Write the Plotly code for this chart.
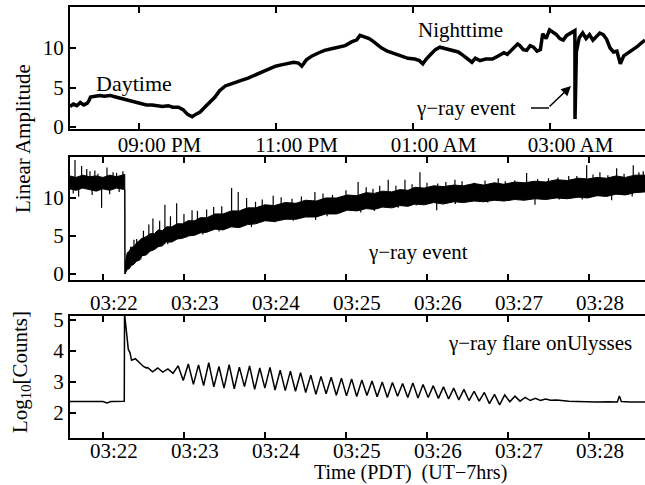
import pandas as pd
import plotly.graph_objects as go

# ---------------- data ----------------
# Top panel: minutes after 20:00 PDT, linear amplitude
top_minutes = [0, 3, 6, 9, 12, 15, 16.5, 18, 22, 26, 30, 35, 40, 45, 50, 55, 61, 67, 72, 76, 81, 86, 90, 95, 99,
               103, 107, 110, 114, 118, 122, 127, 131, 136, 140, 145, 150, 156, 162, 168, 174, 180, 186, 191, 196,
               200, 203, 207, 212, 218, 223, 229, 235, 241, 247, 251, 254, 258, 262, 265, 269, 273, 278, 284, 290,
               296, 302, 306, 309, 312, 316, 320, 324, 329, 335, 340, 344, 348, 352, 355, 359, 364, 370, 375, 380,
               383, 388, 392, 394, 397, 400, 403, 406, 409, 412, 414, 417, 420, 423, 426, 429, 432, 435, 438, 441,
               442.2, 442.3, 442.6, 443.5, 446, 449, 452, 455, 458, 461, 464, 467, 470, 473, 476, 479, 482, 485,
               488, 491, 494, 497, 500, 503.6]
top_amp = [2.6, 2.9, 2.7, 3.1, 2.8, 3.0, 3.3, 3.8, 3.9, 4.0, 3.9, 4.0, 3.8, 3.6, 3.4, 3.2, 3.0, 2.8, 2.8, 2.7, 2.6,
           2.7, 2.5, 2.5, 2.2, 1.6, 1.3, 1.6, 1.9, 2.5, 3.1, 3.8, 4.6, 5.2, 5.4, 5.6, 5.9, 6.2, 6.6, 7.0, 7.4, 7.7,
           7.9, 8.1, 8.2, 8.1, 7.7, 8.5, 9.0, 9.4, 9.7, 9.9, 10.1, 10.3, 10.8, 11.0, 11.6, 11.4, 11.2, 10.9, 10.4,
           10.0, 9.6, 9.3, 9.0, 8.7, 8.6, 8.4, 8.0, 8.6, 9.2, 9.8, 10.1, 9.9, 9.7, 9.5, 9.1, 8.6, 8.2, 8.7, 8.4,
           8.6, 8.6, 9.0, 9.4, 9.2, 9.9, 10.5, 10.3, 9.8, 9.7, 10.3, 10.1, 9.6, 9.8, 11.8, 11.2, 12.3, 12.0, 11.7,
           11.2, 11.0, 11.6, 11.9, 12.1, 12.2, 1.0, 5.5, 9.5, 11.3, 11.9, 11.2, 11.7, 11.0, 11.5, 11.9, 11.7, 11.1,
           10.0, 9.5, 9.6, 8.0, 9.0, 9.3, 9.6, 9.8, 10.2, 10.6, 11.0]

# Middle panel: seconds after 03:22:00, envelope of the noisy amplitude band
pre_sec = [-24.5, -20, -15, -10, -5, 0, 5, 10, 16.2]
pre_hi = [12.9, 12.7, 13.0, 12.8, 12.9, 12.7, 13.0, 12.8, 13.1]
pre_lo = [11.2, 11.0, 11.3, 11.1, 10.9, 11.2, 11.0, 11.3, 11.1]

post_sec = [16.3, 17, 18, 19.5, 21, 23, 25, 27, 29, 32, 35, 38, 41, 44, 47, 51, 55, 59, 63, 68, 72, 77, 83, 89,
            95, 101, 107, 113, 120, 127, 135, 143, 150, 158, 165, 173, 181, 188, 195, 201, 207, 214, 220, 226, 231,
            238, 245, 252, 260, 267, 275, 282, 290, 297, 305, 312, 320, 328, 336, 344, 352, 359, 366, 373, 380, 387,
            394, 401.5]
post_lo = [0.0, 0.2, 0.6, 0.7, 1.1, 1.3, 1.7, 1.8, 2.4, 2.5, 3.0, 3.2, 3.6, 3.7, 4.2, 4.2, 4.6, 4.7, 5.0, 5.1,
           5.4, 5.5, 5.9, 5.8, 6.2, 6.1, 6.5, 6.6, 7.0, 6.9, 7.2, 7.2, 7.5, 7.5, 7.9, 7.9, 8.4, 8.3, 8.6, 8.5, 8.8,
           8.7, 9.0, 8.9, 9.2, 9.1, 9.4, 9.2, 9.5, 9.4, 9.6, 9.5, 9.7, 9.6, 9.8, 9.7, 9.9, 9.8, 10.0, 9.9, 10.1,
           10.0, 10.3, 10.2, 10.5, 10.4, 10.7, 10.8]
post_hi = [1.2, 2.0, 2.8, 3.0, 3.5, 3.6, 4.1, 4.4, 4.7, 4.9, 5.3, 5.3, 5.8, 5.7, 6.2, 6.2, 6.6, 6.6, 7.0, 7.0,
           7.4, 7.4, 7.9, 7.9, 8.3, 8.3, 8.7, 8.7, 9.1, 9.0, 9.4, 9.3, 9.7, 9.6, 10.0, 10.0, 10.4, 10.3, 10.7, 10.6,
           10.9, 10.8, 11.1, 11.0, 11.4, 11.3, 11.6, 11.5, 11.7, 11.6, 11.9, 11.7, 12.0, 11.8, 12.1, 12.0, 12.2,
           12.1, 12.4, 12.3, 12.6, 12.5, 12.7, 12.6, 12.9, 12.7, 13.0, 13.0]

# Middle panel spikes: seconds, band value at the spike foot, spike tip
spike_sec = [-20.7, -15.8, -9.6, -3.7, 10.1, 14.8, 20.5, 25, 30, 37, 45.9, 54.6, 60, 66, 76.8, 88, 95.3, 100.2,
             106.4, 126.1, 140, 157, 170, 189, 200, 211.3, 223.7, 234.8, 248, 260.7, 275, 292.8, 305, 313.8, 330,
             345, 358.3, 368.1, 380.5, 392.8, 400.2,
             3, -12, -6, 7.5, 23, 34, 42, 50, 70, 82, 113, 118, 132, 147, 163, 180, 195, 205, 217, 229, 240, 254,
             266, 283, 298, 322, 337, 351, 363, 374, 386, 397,
             -18, -1.0, 5, 99, 127.4, 157.5, 175.6, 218.7, 247.2, 320, 376.8,
             -22, -8, 12, 28, 48, 62, 74, 86, 110, 141, 166, 191, 201, 232, 261, 285, 301, 338, 355, 392]
spike_base = [12.0, 12.0, 12.0, 12.0, 12.0, 12.0, 2.0, 2.8, 3.5, 4.5, 5.0, 5.6, 5.9, 6.1, 6.5, 6.9, 7.1, 7.3,
              7.4, 7.9, 8.1, 8.5, 8.8, 9.2, 9.5, 9.7, 9.9, 10.1, 10.3, 10.4, 10.5, 10.7, 10.8, 10.9, 11.0, 11.1,
              11.3, 11.4, 11.5, 11.7, 11.8,
              12.0, 12.0, 12.0, 12.0, 2.5, 4.0, 4.7, 5.3, 6.3, 6.7, 7.6, 7.7, 8.0, 8.3, 8.7, 9.0, 9.4, 9.6, 9.8,
              10.0, 10.2, 10.3, 10.4, 10.6, 10.8, 10.9, 11.0, 11.2, 11.3, 11.4, 11.6, 11.7,
              12.0, 12.0, 12.0, 7.2, 7.9, 8.5, 8.9, 9.8, 10.3, 10.9, 11.5,
              12.0, 12.0, 12.0, 3.3, 5.2, 6.0, 6.3, 6.8, 7.5, 8.1, 8.7, 9.2, 9.5, 10.1, 10.4, 10.6, 10.8, 11.0,
              11.2, 11.6]
spike_tip = [15.0, 14.2, 13.5, 13.2, 13.3, 13.5, 3.6, 4.6, 5.7, 7.3, 9.1, 9.3, 7.9, 8.4, 8.5, 8.9, 11.3, 10.8,
             10.0, 10.3, 9.9, 10.8, 10.4, 12.1, 11.2, 12.4, 12.4, 13.4, 11.9, 12.4, 12.0, 12.6, 12.3, 13.3, 12.6,
             12.9, 14.3, 13.4, 13.9, 14.3, 13.5,
             14.0, 13.8, 13.6, 13.4, 4.5, 6.5, 7.0, 7.6, 8.3, 8.8, 9.5, 9.8, 10.1, 10.2, 10.6, 11.0, 11.4, 11.6,
             11.6, 11.8, 12.0, 12.1, 12.2, 12.3, 12.2, 12.5, 12.7, 12.9, 13.1, 13.0, 13.2, 13.4,
             10.2, 8.7, 10.5, 6.2, 6.8, 7.1, 8.0, 8.7, 8.4, 9.1, 9.7,
             10.6, 10.4, 10.8, 1.9, 3.9, 4.8, 5.2, 5.6, 6.2, 7.0, 7.6, 8.1, 8.3, 9.0, 9.2, 9.4, 9.6, 9.8, 9.8,
             10.2]

# Bottom panel: seconds after 03:22:00, log10 counts
flare_sec = [-24.5, -15, -10, -5, 0, 3, 6, 10, 15.8, 16.0, 16.8, 17.5, 18.8, 20, 21.2, 24, 27.4, 30, 32.3]
flare_log = [2.37, 2.36, 2.36, 2.37, 2.37, 2.32, 2.37, 2.37, 2.38, 5.2, 4.9, 4.7, 4.05, 3.95, 3.7, 3.75, 3.6,
             3.5, 3.45]
osc_start_sec = 33.0
osc_step_sec = 3.78
osc_log = [3.47, 3.33, 3.45, 3.32, 3.42, 3.28, 3.52, 3.05, 3.58, 2.92, 3.55, 2.88, 3.62, 2.84, 3.50, 2.80,
           3.56, 2.78, 3.48, 2.85, 3.52, 2.76, 3.45, 2.80, 3.47, 2.74, 3.38, 2.72, 3.35, 2.70, 3.30, 2.66,
           3.22, 2.60, 3.18, 2.62, 3.15, 2.57, 3.12, 2.55, 3.10, 2.53, 3.06, 2.56, 3.03, 2.52, 3.00, 2.50,
           2.98, 2.54, 2.95, 2.50, 2.97, 2.48, 2.92, 2.50, 2.88, 2.47, 2.84, 2.45, 2.80, 2.42, 2.76, 2.40,
           2.70, 2.38, 2.66, 2.30, 2.60, 2.26, 2.58, 2.36, 2.54, 2.38, 2.50, 2.40, 2.47, 2.40, 2.45, 2.41]
tail_sec = [336, 345, 355, 365, 375, 381, 382.5, 384, 390, 401.5]
tail_log = [2.42, 2.38, 2.36, 2.35, 2.36, 2.35, 2.55, 2.37, 2.35, 2.35]

top_ticks = ["2004-12-26 21:00", "2004-12-26 23:00", "2004-12-27 01:00", "2004-12-27 03:00"]
top_ticktext = ["09:00 PM", "11:00 PM", "01:00 AM", "03:00 AM"]
zoom_ticks = ["2004-12-27 03:22", "2004-12-27 03:23", "2004-12-27 03:24", "2004-12-27 03:25",
              "2004-12-27 03:26", "2004-12-27 03:27", "2004-12-27 03:28"]
zoom_ticktext = ["03:22", "03:23", "03:24", "03:25", "03:26", "03:27", "03:28"]

# ---------------- build ----------------
base_top = pd.Timestamp("2004-12-26 20:00")
base_zoom = pd.Timestamp("2004-12-27 03:22:00")


def tmin(v):
    return [base_top + pd.Timedelta(minutes=m) for m in v]


def tsec(v):
    return [base_zoom + pd.Timedelta(seconds=s) for s in v]


FONT = "Liberation Serif"
fig = go.Figure()

fig.add_trace(go.Scatter(x=tmin(top_minutes), y=top_amp, mode="lines",
                         line=dict(color="black", width=3.5), xaxis="x", yaxis="y", showlegend=False))

# middle band polygons
fig.add_trace(go.Scatter(x=tsec(pre_sec + pre_sec[::-1]), y=pre_hi + pre_lo[::-1], mode="lines",
                         fill="toself", fillcolor="black", line=dict(color="black", width=1),
                         xaxis="x2", yaxis="y2", showlegend=False))
fig.add_trace(go.Scatter(x=tsec(post_sec + post_sec[::-1]), y=post_hi + post_lo[::-1], mode="lines",
                         fill="toself", fillcolor="black", line=dict(color="black", width=1),
                         xaxis="x2", yaxis="y2", showlegend=False))
fig.add_trace(go.Scatter(x=tsec([pre_sec[-1], post_sec[0]]), y=[pre_lo[-1], post_lo[0]], mode="lines",
                         line=dict(color="black", width=1.5), xaxis="x2", yaxis="y2", showlegend=False))
sx, sy = [], []
for s, b, t in zip(spike_sec, spike_base, spike_tip):
    ts = base_zoom + pd.Timedelta(seconds=s)
    sx += [ts, ts, None]
    sy += [b, t, None]
fig.add_trace(go.Scatter(x=sx, y=sy, mode="lines", line=dict(color="black", width=1.2),
                         xaxis="x2", yaxis="y2", showlegend=False))

# bottom
osc_sec = [osc_start_sec + i * osc_step_sec for i in range(len(osc_log))]
fig.add_trace(go.Scatter(x=tsec(flare_sec + osc_sec + tail_sec), y=flare_log + osc_log + tail_log,
                         mode="lines", line=dict(color="black", width=1.5),
                         xaxis="x3", yaxis="y3", showlegend=False))

W, H = 645, 485
X0 = 70 / W


def ydom(top_px, bot_px):
    return [1 - bot_px / H, 1 - top_px / H]


axis_common = dict(showline=True, linecolor="black", linewidth=2, ticks="inside", ticklen=6, tickwidth=1.5,
                   tickcolor="black", showgrid=False, zeroline=False, automargin=False,
                   tickfont=dict(family=FONT, size=21, color="black"))

fig.update_layout(
    template="none",
    width=W, height=H, margin=dict(l=0, r=0, t=0, b=0, pad=0),
    paper_bgcolor="white", plot_bgcolor="white",
    xaxis=dict(axis_common, domain=[X0, 1], anchor="y", mirror="ticks", type="date",
               range=[base_top, base_top + pd.Timedelta(minutes=503.6)],
               tickvals=top_ticks, ticktext=top_ticktext, ticklabelshift=21, ticklabelstandoff=-4),
    yaxis=dict(axis_common, domain=ydom(7, 129), anchor="x", mirror=True, range=[-0.25, 15.19],
               tickvals=[0, 5, 10]),
    xaxis2=dict(axis_common, domain=[X0, 1], anchor="y2", mirror="ticks", type="date",
                range=[base_zoom + pd.Timedelta(seconds=-24.4), base_zoom + pd.Timedelta(seconds=401.5)],
                tickvals=zoom_ticks, ticktext=zoom_ticktext, ticklabelshift=11, ticklabelstandoff=3),
    yaxis2=dict(axis_common, domain=ydom(157, 280), anchor="x2", mirror=True, range=[-0.79, 15.39],
                tickvals=[0, 5, 10]),
    xaxis3=dict(axis_common, domain=[X0, 1], anchor="y3", mirror="ticks", type="date",
                range=[base_zoom + pd.Timedelta(seconds=-24.4), base_zoom + pd.Timedelta(seconds=401.5)],
                tickvals=zoom_ticks, ticktext=zoom_ticktext, ticklabelshift=11, ticklabelstandoff=-7),
    yaxis3=dict(axis_common, domain=ydom(316, 438), anchor="x3", mirror=True, range=[1.19, 5.13],
                tickvals=[2, 3, 4, 5]),
)


def px(x):
    return x / W


def py(y):
    return 1 - y / H


ann_font = dict(family=FONT, size=21, color="black")
annotations = [
    dict(text="Daytime", x=px(134), y=py(83), font=dict(family=FONT, size=22, color="black")),
    dict(text="Nighttime", x=px(460), y=py(30)),
    dict(text="γ−ray event", x=px(466), y=py(108)),
    dict(text="γ−ray event", x=px(418), y=py(252)),
    dict(text="γ−ray flare onUlysses", x=px(540), y=py(343)),
    dict(text="Linear Amplitude", x=px(23), y=py(139), textangle=-90),
    dict(text="Log<sub>10</sub>[Counts]", x=px(21), y=py(372), textangle=-90),
    dict(text="Time (PDT)  (UT−7hrs)", x=px(410), y=0, yanchor="bottom", borderpad=0,
         font=dict(family=FONT, size=20, color="black")),
]
for a in annotations:
    a.setdefault("font", ann_font)
    a.setdefault("yanchor", "middle")
    a.update(xref="paper", yref="paper", showarrow=False, xanchor="center")
annotations.append(dict(x=px(571), y=py(86), xref="paper", yref="paper", ax=-23, ay=22, text="",
                        showarrow=True, arrowhead=2, arrowsize=1.3, arrowwidth=1.5, arrowcolor="black"))
fig.update_layout(annotations=annotations)
fig.add_shape(type="line", xref="paper", yref="paper", x0=px(531), y0=py(108), x1=px(549), y1=py(108),
              line=dict(color="black", width=1.5))

fig.write_html("out.html", config={"displayModeBar": False},
               post_script="document.body.style.margin='0px';")
